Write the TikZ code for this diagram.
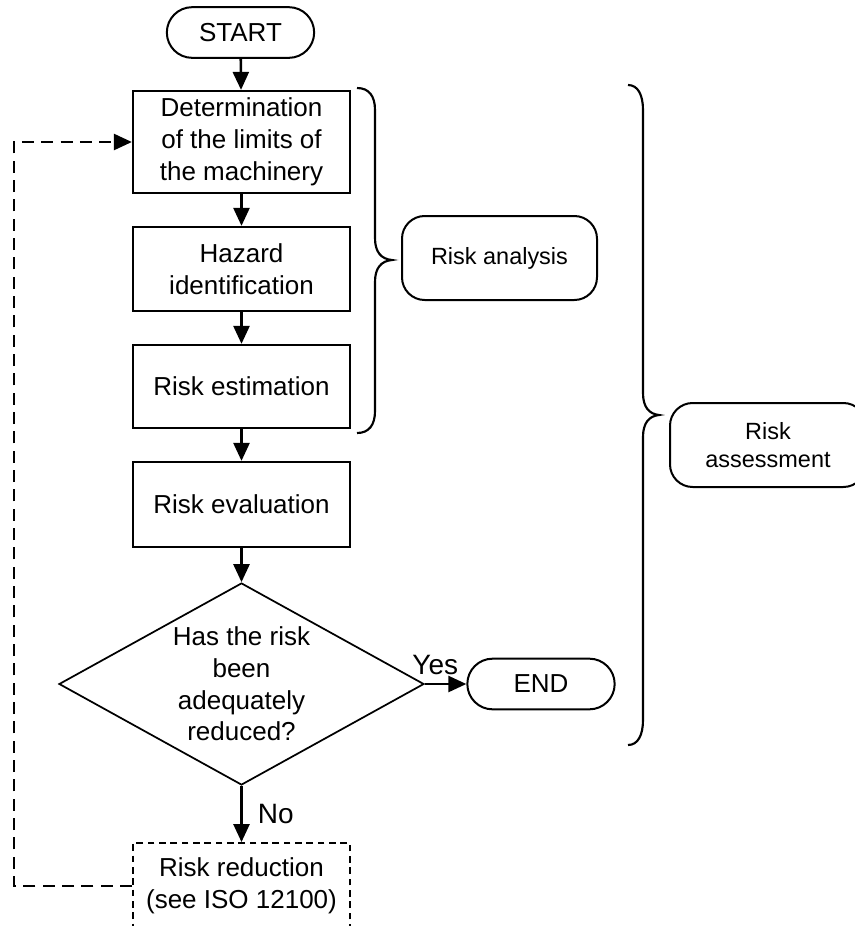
\documentclass[tikz,border=0pt]{standalone}
\usepackage{fontspec}
\setmainfont{Liberation Sans}
\usetikzlibrary{arrows.meta,shapes.geometric,shapes.misc}

\begin{document}
\begin{tikzpicture}[x=0.75pt,y=-0.75pt,
        mainfont/.style={font=\fontsize{19.5}{23.8}\selectfont},
        box/.style={draw,line width=1.7pt,minimum width=162.75pt,align=center,inner sep=0pt,mainfont},
        term/.style={draw,line width=1.5pt,rounded rectangle,minimum width=110.5pt,minimum height=38pt,inner sep=0pt,mainfont},
        side/.style={draw,line width=1.5pt,rounded corners=17pt,minimum width=146.25pt,minimum height=63pt,align=center,font=\fontsize{17.6}{20.8}\selectfont},
        flow/.style={line width=1.9pt,-{Triangle[length=13.5pt,width=12pt]}},
        back/.style={flow,dash pattern=on 9pt off 5.5pt},
        answer/.style={font=\fontsize{21}{25}\selectfont},
        brace/.style={line width=1.6pt}]
        \clip (0,0) rectangle (855,926);
        % main column
        \node[term] (start) at (240.5,32.5) {START};
        \node[box,minimum height=76.5pt] (limits) at (241.5,142) {Determination\\of the limits of\\the machinery};
        \node[box,minimum height=63pt] (hazard) at (241.5,269) {Hazard\\identification};
        \node[box,minimum height=62.25pt] (estim) at (241.5,386.5) {Risk estimation};
        \node[box,minimum height=63.75pt] (evalu) at (241.5,504.5) {Risk evaluation};
        \node[draw,diamond,line width=1.3pt,minimum width=273.75pt,minimum height=151.5pt,inner sep=0pt] (check) at (241.5,684) {};
        \node[align=center,mainfont] (question) at (check) {Has the risk\\been\\adequately\\reduced?};
        \node[term] (end) at (541,684) {END};
        \node[box,minimum height=64.5pt,line width=1.4pt,dash pattern=on 5pt off 3.5pt] (reduce) at (241.5,886) {Risk reduction\\(see ISO 12100)};
        \coordinate (loop) at (14,886);
        % groups on the right
        \node[side] (analysis) at (499.5,258) {Risk analysis};
        \node[side,minimum width=147pt] (assess) at (768,445) {Risk\\assessment};
        \draw[brace] (357,88) .. controls (369,88) and (375,96) .. (375,110) -- (375,238) .. controls (375,252) and (381,259) .. (392,260)
            .. controls (381,261) and (375,268) .. (375,282) -- (375,411) .. controls (375,425) and (369,433) .. (357,433);
        \draw[brace] (628,85) .. controls (638,85) and (643,95) .. (643,110) -- (643,393) .. controls (643,407) and (649,414) .. (659,415)
            .. controls (649,416) and (643,423) .. (643,437) -- (643,720) .. controls (643,735) and (638,745) .. (628,745);
        % connectors
        \draw[flow] (start) -- (limits);
        \draw[flow] (limits) -- (hazard);
        \draw[flow] (hazard) -- (estim);
        \draw[flow] (estim) -- (evalu);
        \draw[flow] (evalu) -- (check);
        \draw[flow] (check) -- node[pos=0.25,above=3pt,answer] (yes) {Yes} (end);
        \draw[flow] (check) -- node[right=8pt,answer] (no) {No} (reduce);
        \draw[back] (reduce.west) -- (loop) |- (limits.west);
    \end{tikzpicture}
\end{document}
